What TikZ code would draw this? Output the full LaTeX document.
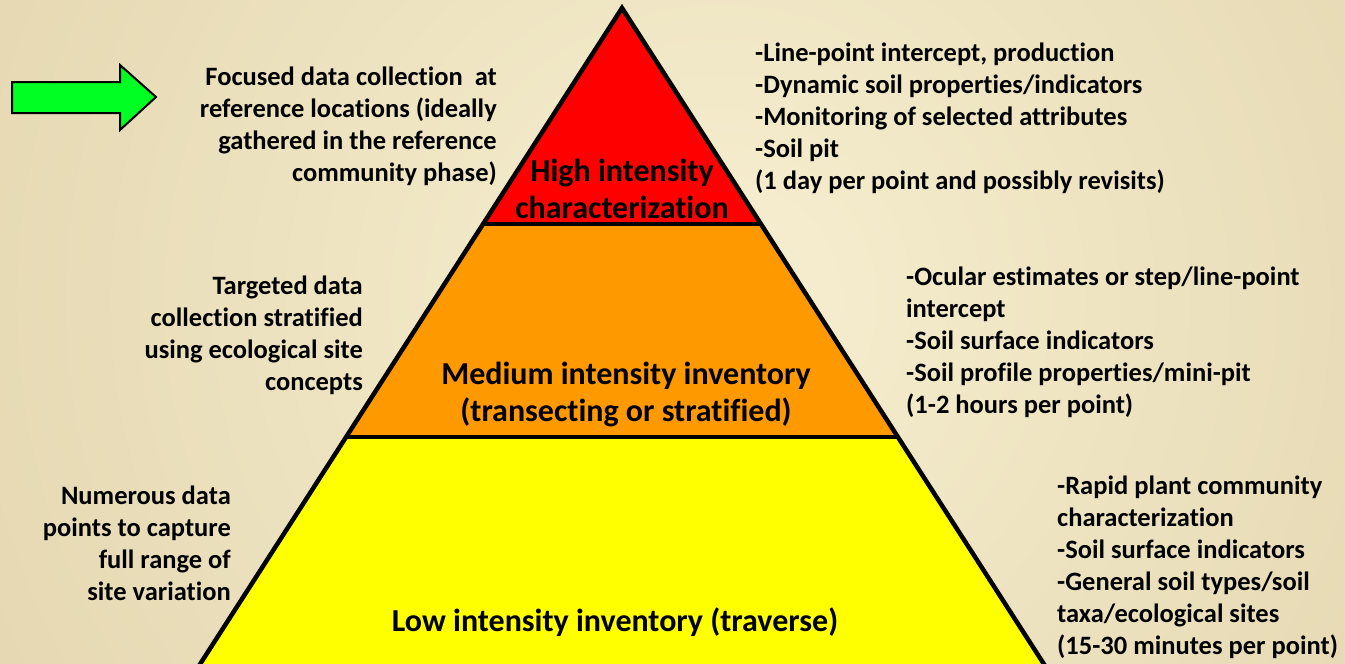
\documentclass[tikz,border=0pt]{standalone}
\usepackage{fontspec}
\setmainfont{Carlito}[Ligatures = NoCommon]
\usepackage{xcolor}
\usetikzlibrary{positioning}

\definecolor{bgin}{HTML}{F6EFD0}
\definecolor{bgout}{HTML}{D5C195}
\definecolor{tierred}{HTML}{FF0000}
\definecolor{tierorange}{HTML}{FF9900}
\definecolor{tieryellow}{HTML}{FFFF00}
\definecolor{arrowgreen}{HTML}{00FF22}

\tikzset{
    note/.style = {font = \bfseries\fontsize{26.5}{32}\selectfont, inner sep = 0pt},
    leftnote/.style = {note, align = right, anchor = east},
    rightnote/.style = {note, align = left, anchor = west},
    tiertitle/.style = {font = \bfseries\fontsize{32}{37}\selectfont, align = center, inner sep = 0pt}
}

\begin{document}
\begin{tikzpicture}[x = 1pt, y = -1pt]
        \useasboundingbox (0,0) rectangle (1345,664);
        \clip (0,0) rectangle (1345,664);
        \shade [inner color = bgin, outer color = bgout] (720,300) circle (1600);

        % pyramid tiers
        \coordinate (apex) at (622,8);
        \coordinate (cutL) at (483,224);
        \coordinate (cutR) at (761,224);
        \coordinate (midL) at (346,437);
        \coordinate (midR) at (898,437);
        \coordinate (baseL) at (195,672);
        \coordinate (baseR) at (1049,672);
        \fill [tierred] (apex) -- (cutR) -- (cutL) -- cycle;
        \fill [tierorange] (cutL) -- (cutR) -- (midR) -- (midL) -- cycle;
        \fill [tieryellow] (midL) -- (midR) -- (baseR) -- (baseL) -- cycle;
        \draw [line width = 4.5pt, line join = miter] (baseL) -- (apex) -- (baseR);
        \draw [line width = 4.5pt] (cutL) -- (cutR);
        \draw [line width = 4.5pt] (midL) -- (midR);

        % green arrow
        \draw [fill = arrowgreen, line width = 2pt, line join = miter]
            (12,82) -- (120,82) -- (120,65) -- (156,97) -- (120,130) -- (120,113) -- (12,113) -- cycle;

        \node [tiertitle] (high) at (622,189) {High intensity\\characterization};
        \node [tiertitle] (medium) at (626,394) {Medium intensity inventory\\(transecting or stratified)};
        \node [tiertitle] (low) at (615,622) {Low intensity inventory (traverse)};

        \node [leftnote] (focused) at (497,126) {Focused data collection~ at\\reference locations (ideally\\gathered in the reference\\community phase)};
        \node [leftnote] (targeted) at (363,335) {Targeted data\\collection stratified\\using ecological site\\concepts};
        \node [leftnote] (numerous) at (231,543) {Numerous data\\points to capture\\full range of\\site variation};

        \node [rightnote] (highlist) at (755,118) {-Line-point intercept, production\\-Dynamic soil properties/indicators\\-Monitoring of selected attributes\\-Soil pit\\(1 day per point and possibly revisits)};
        \node [rightnote] (mediumlist) at (906,342) {-Ocular estimates or step/line-point\\intercept\\-Soil surface indicators\\-Soil profile properties/mini-pit\\(1-2 hours per point)};
        \node [rightnote] (lowlist) at (1057,567) {-Rapid plant community\\characterization\\-Soil surface indicators\\-General soil types/soil\\taxa/ecological sites\\(15-30 minutes per point)};
    \end{tikzpicture}
\end{document}
